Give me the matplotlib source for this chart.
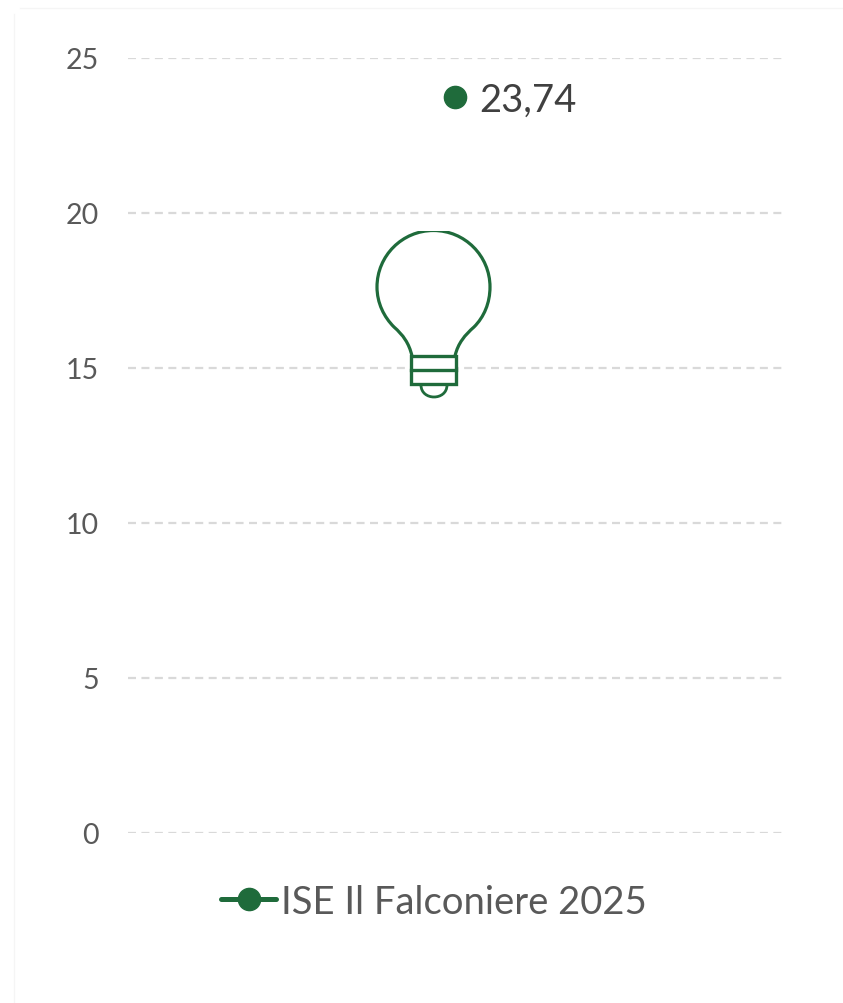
import matplotlib
matplotlib.use('Agg')
import matplotlib.pyplot as plt
from matplotlib.path import Path
from matplotlib.patches import PathPatch, Rectangle

plt.rcParams['font.family'] = ['Lato', 'DejaVu Sans']

# --- Data ---
categories = ['2025']
series_name = 'ISE Il Falconiere 2025'
values = [23.74]
value_labels = ['23,74']
y_ticks = [0, 5, 10, 15, 20, 25]

GREEN = '#1f6b3b'
W, H = 843, 1004

fig = plt.figure(figsize=(W / 100, H / 100), dpi=100, facecolor='white')
ax = fig.add_axes([128 / W, 1 - 834 / H, 654 / W, 775.5 / H])

ax.plot(categories, values, color=GREEN, lw=3.6, marker='o', ms=16, label=series_name,
        solid_capstyle='round', zorder=3)
ax.set_ylim(0, 25)
ax.set_xlim(-0.5, 0.5)
ax.set_yticks(y_ticks)
ax.set_xticks([])
ax.tick_params(axis='y', length=0, pad=21, labelsize=20.5, labelcolor='#595959')
ax.grid(axis='y', color='#d9d9d9', lw=1.6, dashes=(3.6, 2.45))
ax.set_axisbelow(True)
for s in ax.spines.values():
    s.set_visible(False)
ax.patch.set_alpha(0)

for c, v, t in zip(categories, values, value_labels):
    ax.annotate(t, (c, v), xytext=(17.5, -2), textcoords='offset points', va='center',
                ha='left', fontsize=27.5, color='#404040')

leg = ax.legend(loc='center', bbox_to_anchor=(306 / 654, -68.5 / 775), frameon=False, fontsize=27.5,
                labelcolor='#595959', handlelength=1.44, handletextpad=0.12)

# --- Light bulb icon and faint frame, drawn in pixel coordinates ---
over = fig.add_axes([0, 0, 1, 1])
over.set_xlim(0, W)
over.set_ylim(H, 0)
over.axis('off')
over.patch.set_alpha(0)

over.plot([14, 14], [15, H], color='#f5f5f5', lw=1)
over.plot([20, W], [9, 9], color='#f5f5f5', lw=1)

cx, cy, r = 433.5, 288, 56.5
k = 0.5523 * r
head = [
    (Path.MOVETO, (412, 357)),
    (Path.CURVE4, (409, 344)), (Path.CURVE4, (403, 336)), (Path.CURVE4, (394, 328)),
    (Path.CURVE4, (384, 318)), (Path.CURVE4, (cx - r, 304)), (Path.CURVE4, (cx - r, cy)),
    (Path.CURVE4, (cx - r, cy - k)), (Path.CURVE4, (cx - k, cy - r)), (Path.CURVE4, (cx, cy - r)),
    (Path.CURVE4, (cx + k, cy - r)), (Path.CURVE4, (cx + r, cy - k)), (Path.CURVE4, (cx + r, cy)),
    (Path.CURVE4, (cx + r, 304)), (Path.CURVE4, (484, 318)), (Path.CURVE4, (474, 328)),
    (Path.CURVE4, (465, 336)), (Path.CURVE4, (458, 344)), (Path.CURVE4, (455, 357)),
]
codes, verts = zip(*head)
clip = Rectangle((360, 232), 150, 140, transform=over.transData)
p = PathPatch(Path(verts, codes), fc='none', ec=GREEN, lw=2.3)
over.add_patch(p)
p.set_clip_path(clip)

over.add_patch(Rectangle((411, 357), 45, 28, fc='white', ec=GREEN, lw=2.4, joinstyle='miter'))
over.plot([411, 456], [371, 371], color=GREEN, lw=2.4)
tip = Path([(421, 386), (421, 402), (447, 402), (447, 386)],
           [Path.MOVETO, Path.CURVE4, Path.CURVE4, Path.CURVE4])
over.add_patch(PathPatch(tip, fc='none', ec=GREEN, lw=2))

fig.savefig('out.png', dpi=100)
